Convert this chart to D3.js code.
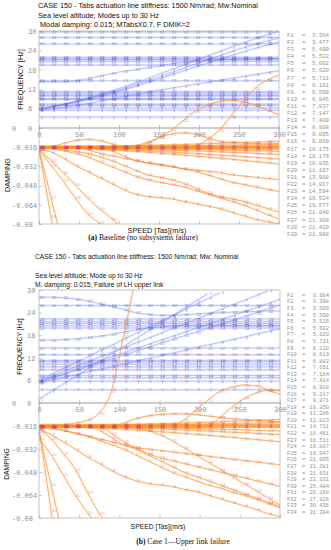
<!DOCTYPE html>
<html>
<head>
<meta charset="utf-8">
<script src="https://cdn.jsdelivr.net/npm/d3@7"></script>
<style>
  body { margin: 0; background: #fff; }
  svg { display: block; }
</style>
</head>
<body>
<svg id="chart" width="331" height="550"></svg>
<script>
// ---------------- data ----------------
const speeds = [0,15,30,45,60,75,90,105,120,135,150,165,180,195,210,225,240,255,270,285,300];
const freqTicks = [0,6,12,18,24,30];
const dampTicks = [0,-0.016,-0.032,-0.048,-0.064,-0.08];
const speedTicks = [0,50,100,150,200,250,300];

const titleA = ["CASE 150 - Tabs actuation line stiffness: 1500 Nm/rad; Mw:Nominal",
                "Sea level altitude; Modes up to 30 Hz",
                " Modal damping: 0.015; MTabsX0.7, F DMIK=2"];
const titleB = ["CASE 150 - Tabs actuation line stiffness: 1500 Nm/rad; Mw: Nominal",
                "Sea level altitude; Mode up to 30 Hz",
                "M. damping: 0.015; Failure of LH upper link"];

const legendA = [3.364,3.477,5.499,5.522,5.602,5.620,5.721,6.101,6.599,6.845,7.037,7.147,7.409,8.808,9.095,
                 9.869,10.175,10.176,10.835,11.197,13.988,14.017,14.594,19.524,19.577,21.040,21.308,21.410,21.988];
const legendB = [0.964,3.398,3.509,5.500,5.526,5.602,5.620,5.721,6.120,6.613,6.882,7.051,7.164,7.414,8.918,9.217,
                 9.871,10.850,11.286,12.823,14.731,16.461,16.511,19.887,19.947,21.095,21.381,21.631,22.331,25.484,
                 26.268,27.826,30.436,31.304];

// frequency [Hz] per mode, one value per speed
const freqA = [
  ["2",  [3.4,3.4,3.4,3.4,3.4,3.4,3.4,3.4,3.4,3.4,3.4,3.4,3.4,3.4,3.4,3.4,3.4,3.4,3.4,3.4,3.4]],
  ["1",  [5.5,5.5,5.5,5.5,5.5,5.5,5.5,5.5,5.5,5.5,5.5,5.5,5.5,5.5,5.5,5.5,5.5,5.5,5.5,5.5,5.5]],
  ["3",  [6.2,6.2,6.2,6.2,6.2,6.2,6.2,6.2,6.2,6.2,6.2,6.2,6.2,6.2,6.2,6.2,6.2,6.2,6.2,6.2,6.2]],
  ["12", [7.0,7.0,7.0,7.0,7.0,7.0,7.0,7.0,7.0,7.0,7.0,7.0,7.0,7.0,7.0,7.0,7.0,7.0,7.0,7.0,7.0]],
  ["13", [7.4,7.4,7.4,7.4,7.4,7.4,7.4,7.4,7.4,7.4,7.4,7.4,7.4,7.4,7.4,7.4,7.4,7.4,7.4,7.4,7.4]],
  ["15", [8.8,8.8,8.8,8.8,8.8,8.8,8.8,8.8,8.8,8.8,8.8,8.8,8.8,8.8,8.8,8.8,8.8,8.8,8.8,8.8,8.8]],
  ["16", [9.1,9.1,9.1,9.1,9.1,9.1,9.1,9.1,9.1,9.1,9.1,9.1,9.1,9.1,9.1,9.1,9.1,9.1,9.1,9.1,9.1]],
  ["17", [9.9,9.9,9.9,9.9,9.9,9.9,9.9,9.9,9.9,9.9,9.9,9.9,9.9,9.9,9.9,9.9,9.9,9.9,9.9,9.9,9.9]],
  ["18", [10.2,10.2,10.2,10.2,10.2,10.2,10.2,10.2,10.2,10.2,10.2,10.2,10.2,10.2,10.2,10.2,10.2,10.2,10.2,10.2,10.2]],
  ["19", [10.8,10.8,10.8,10.8,10.8,10.8,10.8,10.8,10.8,10.8,10.8,10.8,10.8,10.8,10.8,10.8,10.8,10.8,10.8,10.8,10.8]],
  ["20", [11.2,11.2,11.2,11.2,11.2,11.2,11.2,11.2,11.2,11.2,11.2,11.2,11.2,11.2,11.2,11.2,11.2,11.2,11.2,11.2,11.2]],
  ["23", [14.6,14.6,14.6,14.6,14.6,14.6,14.6,14.6,14.6,14.6,14.6,14.6,14.6,14.6,14.6,14.6,14.6,14.6,14.6,14.6,14.6]],
  ["24", [19.5,19.5,19.5,19.5,19.5,19.5,19.5,19.5,19.5,19.5,19.5,19.5,19.5,19.5,19.5,19.5,19.5,19.5,19.5,19.5,19.5]],
  ["26", [20.6,20.6,20.6,20.6,20.6,20.6,20.6,20.6,20.6,20.6,20.6,20.6,20.6,20.6,20.6,20.6,20.6,20.6,20.6,20.6,20.6]],
  ["27", [21.1,21.1,21.1,21.1,21.1,21.1,21.1,21.1,21.1,21.1,21.1,21.1,21.1,21.1,21.1,21.1,21.1,21.1,21.1,21.1,21.1]],
  ["28", [21.4,21.4,21.4,21.4,21.4,21.4,21.4,21.4,21.4,21.4,21.4,21.4,21.4,21.4,21.4,21.4,21.4,21.4,21.4,21.4,21.4]],
  ["29", [21.9,21.9,21.9,21.9,21.9,21.9,21.9,21.9,21.9,21.9,21.9,21.9,21.9,21.9,21.9,21.9,21.9,21.9,21.9,21.9,21.9]],
  ["34", [26.0,26.0,26.0,26.0,26.0,26.0,26.0,26.0,26.0,26.0,26.0,26.0,26.0,26.0,26.0,26.0,26.0,26.0,26.0,26.0,26.0]],
  ["33", [28.0,28.0,28.0,28.0,28.0,28.0,28.0,28.0,28.0,28.0,28.0,28.0,28.0,28.0,28.0,28.0,28.0,28.0,28.0,28.0,28.0]],
  ["32", [29.7,29.7,29.7,29.7,29.7,29.7,29.7,29.7,29.7,29.7,29.7,29.7,29.7,29.7,29.7,29.7,29.7,29.7,29.7,29.7,29.7]],
  ["5",  [5.6,6.4,7.3,8.2,9.2,10.3,11.4,12.6,13.9,15.2,16.6,18.0,19.4,20.8,22.2,23.6,25.0,26.3,27.6,28.8,29.9]],
  ["6",  [5.8,6.5,7.3,8.1,9.0,10.0,11.0,12.1,13.3,14.5,15.8,17.1,18.4,19.7,21.0,22.3,23.6,24.8,25.9,26.9,27.8]],
  ["7",  [6.1,6.6,7.2,7.9,8.7,9.6,10.6,11.7,12.8,14.0,15.2,16.4,17.6,18.8,20.0,21.2,22.4,23.5,24.6,25.6,26.6]],
  ["4",  [5.4,5.8,6.3,6.9,7.5,8.2,8.9,9.6,10.3,11.0,11.7,12.3,12.9,13.5,14.1,14.7,15.3,15.9,16.5,17.1,17.7]],
  ["21", [14.3,14.3,14.3,14.5,15.2,16.0,16.8,17.5,18.0,18.6,19.2,19.8,20.3,20.7,21.0,21.2,21.3,21.4,21.4,21.5,21.5]]
];

// damping per mode, one value per speed
const dampA = [
  ["5",  [-0.015,-0.015,-0.015,-0.015,-0.015,-0.015,-0.015,-0.015,-0.015,-0.015,-0.015,-0.015,-0.015,-0.015,-0.015,-0.015,-0.015,-0.015,-0.015,-0.015,-0.015]],
  ["6",  [-0.0155,-0.0155,-0.0155,-0.0155,-0.0155,-0.0155,-0.0155,-0.0155,-0.0155,-0.0155,-0.0155,-0.0155,-0.0155,-0.0155,-0.0155,-0.0155,-0.0155,-0.0155,-0.0155,-0.0155,-0.0155]],
  ["2",  [-0.016,-0.016,-0.016,-0.016,-0.016,-0.016,-0.016,-0.016,-0.016,-0.016,-0.016,-0.016,-0.016,-0.016,-0.016,-0.016,-0.016,-0.016,-0.016,-0.016,-0.016]],
  ["1",  [-0.0165,-0.0165,-0.0165,-0.0165,-0.0165,-0.0165,-0.0165,-0.0165,-0.0165,-0.0165,-0.0165,-0.0165,-0.0165,-0.0165,-0.0165,-0.0165,-0.0165,-0.0165,-0.0165,-0.0165,-0.0165]],
  ["3",  [-0.017,-0.017,-0.017,-0.017,-0.017,-0.017,-0.017,-0.017,-0.017,-0.017,-0.017,-0.017,-0.017,-0.017,-0.017,-0.017,-0.017,-0.017,-0.017,-0.017,-0.017]],
  ["28", [-0.0160,-0.0159,-0.0158,-0.0157,-0.0156,-0.0154,-0.0152,-0.0150,-0.0147,-0.0145,-0.0142,-0.0140,-0.0137,-0.0134,-0.0131,-0.0128,-0.0124,-0.0121,-0.0117,-0.0114,-0.0110]],
  ["26", [-0.0160,-0.0160,-0.0159,-0.0159,-0.0158,-0.0157,-0.0156,-0.0155,-0.0154,-0.0153,-0.0152,-0.0150,-0.0149,-0.0147,-0.0146,-0.0144,-0.0143,-0.0141,-0.0140,-0.0138,-0.0136]],
  ["14", [-0.0160,-0.0160,-0.0161,-0.0161,-0.0162,-0.0163,-0.0163,-0.0164,-0.0165,-0.0166,-0.0167,-0.0168,-0.0169,-0.0170,-0.0172,-0.0173,-0.0174,-0.0176,-0.0177,-0.0179,-0.0180]],
  ["19", [-0.0160,-0.0160,-0.0161,-0.0162,-0.0163,-0.0164,-0.0166,-0.0167,-0.0169,-0.0171,-0.0172,-0.0174,-0.0176,-0.0178,-0.0181,-0.0183,-0.0185,-0.0187,-0.0190,-0.0192,-0.0195]],
  ["29", [-0.0160,-0.0161,-0.0162,-0.0163,-0.0165,-0.0168,-0.0170,-0.0172,-0.0175,-0.0178,-0.0181,-0.0184,-0.0188,-0.0191,-0.0195,-0.0199,-0.0203,-0.0207,-0.0211,-0.0216,-0.0220]],
  ["30", [-0.0160,-0.0161,-0.0163,-0.0166,-0.0169,-0.0173,-0.0176,-0.0181,-0.0185,-0.0190,-0.0195,-0.0201,-0.0207,-0.0212,-0.0219,-0.0225,-0.0232,-0.0238,-0.0245,-0.0253,-0.0260]],
  ["31", [-0.0160,-0.0162,-0.0164,-0.0168,-0.0172,-0.0178,-0.0183,-0.0189,-0.0195,-0.0202,-0.0210,-0.0217,-0.0225,-0.0233,-0.0242,-0.0251,-0.0260,-0.0270,-0.0280,-0.0290,-0.0300]],
  ["9",  [-0.016,-0.016,-0.016,-0.016,-0.016,-0.0165,-0.019,-0.023,-0.027,-0.029,-0.031,-0.032,-0.034,-0.035,-0.036,-0.037,-0.039,-0.040,-0.041,-0.042,-0.043]],
  ["20", [-0.016,-0.016,-0.016,-0.0165,-0.018,-0.021,-0.023,-0.025,-0.027,-0.029,-0.030,-0.032,-0.034,-0.036,-0.039,-0.042,-0.045,-0.047,-0.049,-0.051,-0.053]],
  ["13", [-0.016,-0.017,-0.018,-0.0195,-0.021,-0.024,-0.027,-0.031,-0.035,-0.039,-0.041,-0.043,-0.046,-0.050,-0.054,-0.057,-0.059,-0.061,-0.064,-0.067,-0.070]],
  ["16", [-0.016,-0.017,-0.019,-0.021,-0.024,-0.028,-0.032,-0.036,-0.040,-0.043,-0.045,-0.047,-0.049,-0.052,-0.055,-0.058,-0.061,-0.064,-0.068,-0.072,-0.076]],
  ["8",  [-0.017,-0.020,-0.025,-0.031,-0.036,-0.041,-0.046,-0.051,-0.055,-0.057,-0.058,-0.059,-0.061,-0.063,-0.065,-0.067,-0.070,-0.073,-0.076,-0.078,-0.080]],
  ["19", [-0.018,-0.031,-0.044,-0.058,-0.071,-0.079,-0.086]],
  ["20", [-0.018,-0.027,-0.037,-0.047,-0.058,-0.067,-0.075,-0.084]],
  ["22", [-0.018,-0.058,-0.098]],
  ["30", [-0.018,-0.074,-0.130]],
  ["27", [-0.016,-0.0155,-0.013,-0.0105,-0.0095,-0.0105,-0.013,-0.0155,-0.016,-0.016,-0.016,-0.016,-0.016,-0.016,-0.016,-0.016,-0.016,-0.016,-0.016,-0.016,-0.016]],
  ["24", [-0.016,-0.016,-0.016,-0.016,-0.016,-0.016,-0.016,-0.016,-0.016,-0.013,-0.008,-0.002,0.006,0.014,0.019,0.022,0.023,0.022,0.019,0.015,0.011]],
  ["34", [-0.016,-0.016,-0.016,-0.016,-0.016,-0.016,-0.016,-0.016,-0.016,-0.016,-0.016,-0.016,-0.016,-0.015,-0.010,-0.002,0.010,0.022,0.033,0.040,0.044]],
  ["25", [-0.016,-0.016,-0.016,-0.016,-0.016,-0.016,-0.016,-0.016,-0.015,-0.012,-0.008,-0.005,-0.004,-0.005,-0.008,-0.011,-0.012,-0.0125,-0.013,-0.013,-0.013]]
];

const freqB = [
  ["2",  [3.5,3.5,3.5,3.5,3.5,3.5,3.5,3.5,3.5,3.5,3.5,3.5,3.5,3.5,3.5,3.5,3.5,3.5,3.5,3.5,3.5]],
  ["6",  [5.8,5.8,5.8,5.8,5.8,5.8,5.8,5.8,5.8,5.8,5.8,5.8,5.8,5.8,5.8,5.8,5.8,5.8,5.8,5.8,5.8]],
  ["12", [6.7,6.7,6.7,6.7,6.7,6.7,6.7,6.7,6.7,6.7,6.7,6.7,6.7,6.7,6.7,6.7,6.7,6.7,6.7,6.7,6.7]],
  ["14", [7.3,7.3,7.3,7.3,7.3,7.3,7.3,7.3,7.3,7.3,7.3,7.3,7.3,7.3,7.3,7.3,7.3,7.3,7.3,7.3,7.3]],
  ["15", [8.8,8.8,8.8,8.8,8.8,8.8,8.8,8.8,8.8,8.8,8.8,8.8,8.8,8.8,8.8,8.8,8.8,8.8,8.8,8.8,8.8]],
  ["16", [9.6,9.6,9.6,9.6,9.6,9.6,9.6,9.6,9.6,9.6,9.6,9.6,9.6,9.6,9.6,9.6,9.6,9.6,9.6,9.6,9.6]],
  ["17", [10.3,10.3,10.3,10.3,10.3,10.3,10.3,10.3,10.3,10.3,10.3,10.3,10.3,10.3,10.3,10.3,10.3,10.3,10.3,10.3,10.3]],
  ["18", [10.9,10.9,10.9,10.9,10.9,10.9,10.9,10.9,10.9,10.9,10.9,10.9,10.9,10.9,10.9,10.9,10.9,10.9,10.9,10.9,10.9]],
  ["19", [11.3,11.3,11.3,11.3,11.3,11.3,11.3,11.3,11.3,11.3,11.3,11.3,11.3,11.3,11.3,11.3,11.3,11.3,11.3,11.3,11.3]],
  ["20", [12.8,12.8,12.8,12.8,12.8,12.8,12.8,12.8,12.8,12.8,12.8,12.8,12.8,12.8,12.8,12.8,12.8,12.8,12.8,12.8,12.8]],
  ["21", [14.6,14.6,14.6,14.6,14.6,14.6,14.6,14.6,14.6,14.6,14.6,14.6,14.6,14.6,14.6,14.6,14.6,14.6,14.6,14.6,14.6]],
  ["24", [19.9,19.9,19.9,19.9,19.9,19.9,19.9,19.9,19.9,19.9,19.9,19.9,19.9,19.9,19.9,19.9,19.9,19.9,19.9,19.9,19.9]],
  ["25", [20.5,20.5,20.5,20.5,20.5,20.5,20.5,20.5,20.5,20.5,20.5,20.5,20.5,20.5,20.5,20.5,20.5,20.5,20.5,20.5,20.5]],
  ["26", [21.1,21.1,21.1,21.1,21.1,21.1,21.1,21.1,21.1,21.1,21.1,21.1,21.1,21.1,21.1,21.1,21.1,21.1,21.1,21.1,21.1]],
  ["27", [21.6,21.6,21.6,21.6,21.6,21.6,21.6,21.6,21.6,21.6,21.6,21.6,21.6,21.6,21.6,21.6,21.6,21.6,21.6,21.6,21.6]],
  ["28", [22.3,22.3,22.3,22.3,22.3,22.3,22.3,22.3,22.3,22.3,22.3,22.3,22.3,22.3,22.3,22.3,22.3,22.3,22.3,22.3,22.3]],
  ["34", [25.9,25.9,25.9,25.9,25.9,25.9,25.9,25.9,25.9,25.9,25.9,25.9,25.9,25.9,25.9,25.9,25.9,25.9,25.9,25.9,25.9]],
  ["23", [16.7,16.7,16.8,17.0,17.3,17.7,18.2,18.8,19.4,19.9,20.2,20.4,20.5,20.5,20.5,20.5,20.5,20.5,20.5,20.5,20.5]],
  ["32", [28.1,28.1,27.9,27.6,27.1,26.4,25.6,24.8,24.0,23.5,23.3,23.3,23.4,23.6,23.8,24.0,24.1,24.2,24.3,24.4,24.4]],
  ["1",  [1.0,3.0,5.0,7.0,9.0,11.0,13.0,15.0,17.0,19.0,21.0,23.0,25.0,27.0,29.0]],
  ["5",  [6.0,7.6,9.1,10.7,12.2,13.8,15.3,16.9,18.4,20.0,21.5,23.1,24.6,26.2,27.7,29.3]],
  ["7",  [5.8,7.1,8.3,9.6,10.8,12.1,13.4,14.6,15.9,17.1,18.4,19.7,20.9,22.2,23.4,24.7,26.0,27.2,28.5,29.7]],
  ["9",  [5.6,6.7,7.8,8.9,10.0,11.1,12.2,13.3,14.4,15.5,16.6,17.6,18.7,19.8,20.9,22.0,23.1,24.2,25.3,26.4,27.5]],
  ["10", [5.5,6.5,7.5,8.6,9.6,10.6,11.6,12.7,13.7,14.7,15.8,16.8,17.8,18.8,19.8,20.9,21.9,22.9,23.9,25.0,26.0]],
  ["4",  [5.3,6.0,6.7,7.5,8.2,8.9,9.6,10.3,11.1,11.8,12.5,13.2,13.9,14.7,15.4,16.1,16.8,17.5,18.3,19.0,19.7]]
];

const dampB = [
  ["1",  [-0.015,-0.015,-0.015,-0.015,-0.015,-0.015,-0.015,-0.015,-0.015,-0.015,-0.015,-0.015,-0.015,-0.015,-0.015,-0.015,-0.015,-0.015,-0.015,-0.015,-0.015]],
  ["2",  [-0.0155,-0.0155,-0.0155,-0.0155,-0.0155,-0.0155,-0.0155,-0.0155,-0.0155,-0.0155,-0.0155,-0.0155,-0.0155,-0.0155,-0.0155,-0.0155,-0.0155,-0.0155,-0.0155,-0.0155,-0.0155]],
  ["3",  [-0.016,-0.016,-0.016,-0.016,-0.016,-0.016,-0.016,-0.016,-0.016,-0.016,-0.016,-0.016,-0.016,-0.016,-0.016,-0.016,-0.016,-0.016,-0.016,-0.016,-0.016]],
  ["5",  [-0.0165,-0.0165,-0.0165,-0.0165,-0.0165,-0.0165,-0.0165,-0.0165,-0.0165,-0.0165,-0.0165,-0.0165,-0.0165,-0.0165,-0.0165,-0.0165,-0.0165,-0.0165,-0.0165,-0.0165,-0.0165]],
  ["6",  [-0.017,-0.017,-0.017,-0.017,-0.017,-0.017,-0.017,-0.017,-0.017,-0.017,-0.017,-0.017,-0.017,-0.017,-0.017,-0.017,-0.017,-0.017,-0.017,-0.017,-0.017]],
  ["28", [-0.0160,-0.0160,-0.0159,-0.0158,-0.0156,-0.0154,-0.0153,-0.0151,-0.0149,-0.0146,-0.0144,-0.0142,-0.0139,-0.0136,-0.0134,-0.0131,-0.0128,-0.0125,-0.0122,-0.0118,-0.0115]],
  ["26", [-0.0160,-0.0160,-0.0159,-0.0159,-0.0158,-0.0157,-0.0156,-0.0155,-0.0154,-0.0153,-0.0152,-0.0150,-0.0149,-0.0147,-0.0146,-0.0144,-0.0143,-0.0141,-0.0140,-0.0138,-0.0136]],
  ["13", [-0.0160,-0.0160,-0.0161,-0.0162,-0.0163,-0.0164,-0.0166,-0.0167,-0.0169,-0.0171,-0.0172,-0.0174,-0.0176,-0.0178,-0.0181,-0.0183,-0.0185,-0.0187,-0.0190,-0.0192,-0.0195]],
  ["33", [-0.0160,-0.0161,-0.0162,-0.0163,-0.0165,-0.0168,-0.0170,-0.0172,-0.0175,-0.0178,-0.0181,-0.0184,-0.0188,-0.0191,-0.0195,-0.0199,-0.0203,-0.0207,-0.0211,-0.0216,-0.0220]],
  ["31", [-0.0160,-0.0161,-0.0164,-0.0166,-0.0170,-0.0174,-0.0178,-0.0183,-0.0188,-0.0193,-0.0199,-0.0205,-0.0211,-0.0218,-0.0224,-0.0232,-0.0239,-0.0246,-0.0254,-0.0262,-0.0270]],
  ["10", [-0.016,-0.016,-0.016,-0.016,-0.016,-0.019,-0.024,-0.029,-0.031,-0.032,-0.033,-0.034,-0.035,-0.036,-0.037,-0.038,-0.039,-0.040,-0.041,-0.042,-0.043]],
  ["19", [-0.016,-0.016,-0.016,-0.016,-0.016,-0.016,-0.021,-0.027,-0.031,-0.035,-0.038,-0.040,-0.042,-0.044,-0.046,-0.048,-0.050,-0.052,-0.054,-0.056,-0.058]],
  ["14", [-0.016,-0.017,-0.019,-0.021,-0.023,-0.025,-0.027,-0.029,-0.032,-0.036,-0.040,-0.044,-0.048,-0.051,-0.054,-0.057,-0.060,-0.063,-0.066,-0.069,-0.072]],
  ["27", [-0.017,-0.018,-0.019,-0.021,-0.023,-0.026,-0.029,-0.032,-0.036,-0.040,-0.044,-0.048,-0.051,-0.054,-0.057,-0.059,-0.062,-0.064,-0.067,-0.070,-0.073]],
  ["34", [-0.017,-0.017,-0.017,-0.017,-0.017,-0.017,-0.017,-0.017,-0.017,-0.019,-0.022,-0.026,-0.031,-0.036,-0.041,-0.046,-0.051,-0.056,-0.061,-0.066,-0.071]],
  ["8",  [-0.018,-0.022,-0.027,-0.032,-0.0375,-0.042,-0.047,-0.051,-0.054,-0.056,-0.057,-0.058,-0.060,-0.0615,-0.064,-0.0665,-0.069,-0.0715,-0.074,-0.077,-0.079]],
  ["20", [-0.025,-0.036,-0.050,-0.064,-0.076,-0.088]],
  ["29", [-0.018,-0.025,-0.035,-0.046,-0.062,-0.077,-0.090]],
  ["30", [-0.018,-0.075,-0.132]],
  ["20", [-0.020,-0.057,-0.094]],
  ["24", [-0.016,-0.016,-0.016,-0.016,-0.016,-0.016,-0.016,-0.014,-0.011,-0.009,-0.008,-0.0075,-0.0075,-0.008,-0.009,-0.010,-0.011,-0.0115,-0.012,-0.0125,-0.013]],
  ["32", [-0.016,-0.016,-0.015,-0.014,-0.012,-0.007,0.008,0.046,0.086]],
  ["25", [-0.016,-0.016,-0.016,-0.016,-0.016,-0.016,-0.016,-0.016,-0.016,-0.016,-0.016,-0.016,-0.012,-0.005,0.002,0.008,0.011,0.0125,0.012,0.009,0.006]],
  ["23", [-0.016,-0.016,-0.016,-0.016,-0.016,-0.016,-0.016,-0.016,-0.016,-0.016,-0.016,-0.016,-0.016,-0.016,-0.016,-0.010,-0.003,0.003,0.007,0.009,0.0085]]
];

// ---------------- drawing ----------------
const svg = d3.select('#chart');
const defs = svg.append('defs');
const SANS = 'Liberation Sans, Arial, sans-serif';
const MONO = 'Liberation Mono, DejaVu Sans Mono, monospace';
const SERIF = 'Liberation Serif, Times New Roman, serif';

function toPoints(vals) {
  return speeds.map((s, i) => [s, vals[i] == null ? null : vals[i]]);
}

function drawPanel(p) {
  const g = svg.append('g').attr('class', 'panel-' + p.id);

  const x = d3.scaleLinear().domain([0, 300]).range([p.left, p.right]);
  const yF = d3.scaleLinear().domain([0, 30]).range([p.mid, p.top]);
  const yD = d3.scaleLinear().domain([-0.08, 0]).range([p.bottom, p.mid]);

  // clip regions: blue stays in the frequency box, orange may rise into it
  defs.append('clipPath').attr('id', 'cf' + p.id).append('rect')
    .attr('x', p.left).attr('y', p.top).attr('width', p.right - p.left).attr('height', p.mid - p.top);
  defs.append('clipPath').attr('id', 'cd' + p.id).append('rect')
    .attr('x', p.left).attr('y', p.top).attr('width', p.right - p.left).attr('height', p.bottom - p.top);

  // titles
  p.titles.forEach((t, i) => {
    g.append('text').attr('x', p.titleX).attr('y', p.titleY[i])
      .text(t).style('font-family', SANS).style('font-size', p.titleSize).attr('fill', '#111')
      .attr('xml:space', 'preserve');
  });

  // frames
  g.append('rect').attr('x', p.left).attr('y', p.top).attr('width', p.right - p.left)
    .attr('height', p.mid - p.top).attr('fill', 'none').attr('stroke', '#a8a8a8').attr('stroke-width', 0.7);
  g.append('rect').attr('x', p.left).attr('y', p.mid).attr('width', p.right - p.left)
    .attr('height', p.bottom - p.mid).attr('fill', 'none').attr('stroke', '#a8a8a8').attr('stroke-width', 0.7);

  // y axes
  const fAxis = g.append('g').attr('transform', `translate(${p.left},0)`)
    .call(d3.axisLeft(yF).tickValues(freqTicks).tickSize(-3).tickFormat(d => String(d)));
  fAxis.selectAll('text').attr('text-anchor', 'start').attr('x', p.fLabX - p.left);
  const dAxis = g.append('g').attr('transform', `translate(${p.left},0)`)
    .call(d3.axisLeft(yD).tickValues(dampTicks).tickSize(-3).tickFormat(d => String(d)));
  dAxis.selectAll('text').attr('text-anchor', 'start').attr('x', p.dLabX - p.left);

  // x axis (labels sit just under the shared border)
  g.append('g').attr('transform', `translate(0,${p.mid})`)
    .call(d3.axisBottom(x).tickValues(speedTicks).tickSize(3).tickPadding(1));
  g.append('g').attr('transform', `translate(0,${p.mid})`)
    .call(d3.axisTop(x).tickValues(speedTicks).tickSize(3).tickFormat(''));
  g.append('g').attr('transform', `translate(0,${p.bottom})`)
    .call(d3.axisTop(x).tickValues(speedTicks).tickSize(3).tickFormat(''));

  g.selectAll('.domain').remove();
  g.selectAll('.tick line').attr('stroke', '#a8a8a8').attr('stroke-width', 0.6);
  g.selectAll('.tick text').attr('fill', '#8f8f8f').style('font-family', MONO).style('font-size', p.tickSize);

  // axis titles
  g.append('text').attr('transform', `translate(${p.fTitleX},${(p.top + p.mid) / 2}) rotate(-90)`)
    .attr('text-anchor', 'middle').text('FREQUENCY [Hz]')
    .style('font-family', SANS).style('font-size', p.axTitleSize).attr('fill', '#111');
  g.append('text').attr('transform', `translate(${p.dTitleX},${p.dTitleY}) rotate(-90)`)
    .attr('text-anchor', 'middle').text('DAMPING')
    .style('font-family', SANS).style('font-size', p.axTitleSize).attr('fill', '#111');
  g.append('text').attr('x', p.speedX).attr('y', p.speedY).attr('text-anchor', 'middle')
    .text('SPEED [Tas](m/s)').style('font-family', SANS).style('font-size', p.axTitleSize).attr('fill', '#111');

  // caption
  const cap = g.append('text').attr('x', p.capX).attr('y', p.capY).attr('text-anchor', 'middle')
    .style('font-family', SERIF).style('font-size', 7.6).attr('fill', '#111');
  cap.append('tspan').style('font-weight', 'bold').text(p.capTag);
  cap.append('tspan').text(' ' + p.capText);

  // lines
  const lineF = d3.line().defined(d => d[1] != null)
    .x(d => x(d[0])).y(d => yF(d[1])).curve(d3.curveMonotoneX);
  const lineD = d3.line().defined(d => d[1] != null)
    .x(d => x(d[0])).y(d => yD(d[1])).curve(d3.curveMonotoneX);

  const gf = g.append('g').attr('clip-path', `url(#cf${p.id})`);
  gf.selectAll('path.halo').data(p.freq).enter().append('path')
    .attr('d', d => lineF(toPoints(d[1]))).attr('fill', 'none')
    .attr('stroke', '#9aa2f6').attr('stroke-opacity', 0.16).attr('stroke-width', 2.6);
  gf.selectAll('path.ln').data(p.freq).enter().append('path')
    .attr('d', d => lineF(toPoints(d[1]))).attr('fill', 'none')
    .attr('stroke', '#6670f0').attr('stroke-opacity', 0.6).attr('stroke-width', 0.6);
  p.freq.forEach(sr => {
    gf.selectAll(null).data(toPoints(sr[1]).filter(d => d[1] != null)).enter().append('text')
      .attr('x', d => x(d[0]) + 3).attr('y', d => yF(d[1])).attr('dy', '0.35em')
      .attr('text-anchor', 'middle').text(sr[0])
      .style('font-family', SANS).style('font-size', 4.4).attr('fill', '#3d4fc2').attr('fill-opacity', 0.65);
  });

  const gd = g.append('g').attr('clip-path', `url(#cd${p.id})`);
  gd.selectAll('path.halo').data(p.damp).enter().append('path')
    .attr('d', d => lineD(toPoints(d[1]))).attr('fill', 'none')
    .attr('stroke', '#ffb870').attr('stroke-opacity', 0.22).attr('stroke-width', 2.2);
  gd.selectAll('path.ln').data(p.damp).enter().append('path')
    .attr('d', d => lineD(toPoints(d[1]))).attr('fill', 'none')
    .attr('stroke', '#ff8d22').attr('stroke-opacity', 0.85).attr('stroke-width', 0.75);
  p.damp.forEach(sr => {
    gd.selectAll(null).data(toPoints(sr[1]).filter(d => d[1] != null)).enter().append('text')
      .attr('x', d => x(d[0]) + 3).attr('y', d => yD(d[1])).attr('dy', '0.35em')
      .attr('text-anchor', 'middle').text(sr[0])
      .style('font-family', SANS).style('font-size', 4.4).attr('fill', '#d24a62').attr('fill-opacity', 0.55);
  });

  // mode list on the right
  const lg = g.append('g').style('font-family', MONO).style('font-size', p.legSize).attr('fill', '#929292');
  p.legend.forEach((v, i) => {
    const yy = p.legY0 + i * p.legStep;
    lg.append('text').attr('x', 287).attr('y', yy).attr('dy', '0.35em').text('F' + (i + 1));
    lg.append('text').attr('x', 302).attr('y', yy).attr('dy', '0.35em').text('=');
    lg.append('text').attr('x', 329).attr('y', yy).attr('dy', '0.35em').attr('text-anchor', 'end').text(v.toFixed(3));
  });
}

drawPanel({
  id: 'a', left: 39, right: 279, top: 31, mid: 128, bottom: 224,
  titles: titleA, titleX: 38, titleY: [8.3, 17.5, 26.5], titleSize: 7.3,
  fLabX: 28, dLabX: 12, tickSize: 7, axTitleSize: 7.3,
  fTitleX: 23, dTitleX: 10, dTitleY: 175, speedX: 157, speedY: 233,
  capX: 143, capY: 240, capTag: '(a)', capText: 'Baseline (no subsystems failure)',
  freq: freqA, damp: dampA, legend: legendA, legY0: 35, legStep: 7.1, legSize: 5.7
});

drawPanel({
  id: 'b', left: 39, right: 280, top: 290, mid: 403, bottom: 518,
  titles: titleB, titleX: 35, titleY: [258.5, 277.5, 286.5], titleSize: 6.7,
  fLabX: 27, dLabX: 12, tickSize: 7, axTitleSize: 6.8,
  fTitleX: 22, dTitleX: 9, dTitleY: 464, speedX: 158, speedY: 529,
  capX: 183, capY: 544, capTag: '(b)', capText: 'Case 1\u2014Upper link failure',
  freq: freqB, damp: dampB, legend: legendB, legY0: 295, legStep: 6.58, legSize: 5.4
});
</script>
</body>
</html>
